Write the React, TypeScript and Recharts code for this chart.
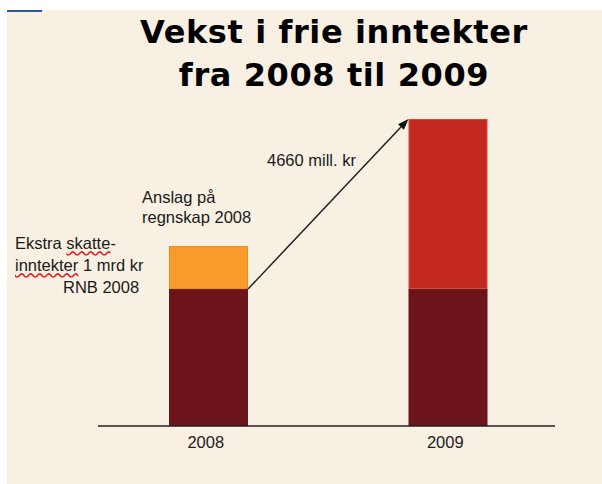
import { BarChart, Bar, Cell, XAxis, YAxis } from "recharts";

const years = ["2008", "2009"];
const baseValues = [3750, 3750];
const topValues = [1180, 4660];
const topColors = ["#F99A2C", "#C3281F"];
const topBorders = ["#F08814", "#D4453A"];
const growthLabel = "4660 mill. kr";

const chartData = years.map((year, i) => ({
  year,
  base: baseValues[i],
  top: topValues[i],
}));

const bg = "#F8F0E2";
const textFont = '"Liberation Sans", Arial, sans-serif';

// arrow runs from the top of the 2008 base to the top of 2009
let arrowStart: { x: number; y: number } | null = null;

function TopShape(props: any) {
  const { x, y, width, height, index, fill, stroke } = props;
  const rect = (
    <rect x={x + 0.5} y={y + 0.5} width={width - 1} height={height - 1} fill={fill} stroke={stroke} strokeWidth={1} />
  );
  if (index === 0) {
    arrowStart = { x: x + width, y: y + height };
    return rect;
  }
  if (!arrowStart) return rect;
  const sx = arrowStart.x;
  const sy = arrowStart.y;
  const ang = Math.atan2(y - sy, x - sx);
  const len = 11;
  const half = 4;
  const bx = x - len * Math.cos(ang);
  const by = y - len * Math.sin(ang);
  const px = -Math.sin(ang) * half;
  const py = Math.cos(ang) * half;
  return (
    <g>
      {rect}
      <line x1={sx} y1={sy} x2={bx} y2={by} stroke="#222" strokeWidth={1.5} />
      <polygon points={`${x},${y} ${bx + px},${by + py} ${bx - px},${by - py}`} fill="#111" />
    </g>
  );
}

export default function App() {
  return (
    <div>
      <div style={{ position: "absolute", left: 7, top: 10, width: 595, height: 474, background: bg }} />
      <div style={{ position: "absolute", left: 7, top: 10, width: 35, height: 2, background: "#2F5597" }} />

      {/* Title */}
      <div
        style={{
          position: "absolute",
          left: 34,
          top: 11,
          width: 600,
          textAlign: "center",
          fontFamily: '"DejaVu Sans", Verdana, sans-serif',
          fontWeight: "bold",
          fontSize: 32,
          lineHeight: "43px",
          letterSpacing: 0.6,
          color: "#000",
        }}
      >
        Vekst i frie inntekter
        <br />
        fra 2008 til 2009
      </div>

      <div style={{ position: "absolute", left: 7, top: 10 }}>
        <BarChart width={595} height={474} data={chartData} margin={{ top: 109, right: 47, left: 91, bottom: 28 }}>
          <XAxis
            dataKey="year"
            height={30}
            tickLine={false}
            tickMargin={4}
            padding={{ left: -9, right: -13 }}
            axisLine={{ stroke: "#222", strokeWidth: 1.5 }}
            tick={{ fill: "#222", fontSize: 16.5, fontFamily: textFont, dx: -3 }}
          />
          <YAxis hide domain={[0, 8410]} />
          <Bar dataKey="base" stackId="a" barSize={79} fill="#6C141A" isAnimationActive={false} />
          <Bar dataKey="top" stackId="a" barSize={79} isAnimationActive={false} shape={TopShape}>
            {chartData.map((d, i) => (
              <Cell key={d.year} fill={topColors[i]} stroke={topBorders[i]} />
            ))}
          </Bar>
        </BarChart>
      </div>

      {/* Annotations */}
      <div style={{ position: "absolute", left: 142, top: 187, fontFamily: textFont, fontSize: 16.5, lineHeight: "20px", color: "#1a1a1a", whiteSpace: "nowrap" }}>
        Anslag på
        <br />
        regnskap 2008
      </div>
      <div style={{ position: "absolute", left: 15, top: 232, fontFamily: textFont, fontSize: 16.5, lineHeight: "22px", color: "#1a1a1a", whiteSpace: "nowrap" }}>
        Ekstra{" "}
        <span style={{ textDecoration: "underline wavy #E02020", textUnderlineOffset: 1 }}>skatte</span>-
        <br />
        <span style={{ textDecoration: "underline wavy #E02020", textUnderlineOffset: 1 }}>inntekter</span> 1 mrd kr
        <br />
        <span style={{ paddingLeft: 48 }}>RNB 2008</span>
      </div>
      <div style={{ position: "absolute", left: 267, top: 150, fontFamily: textFont, fontSize: 16.5, lineHeight: "20px", color: "#1a1a1a", whiteSpace: "nowrap" }}>
        {growthLabel}
      </div>
    </div>
  );
}
